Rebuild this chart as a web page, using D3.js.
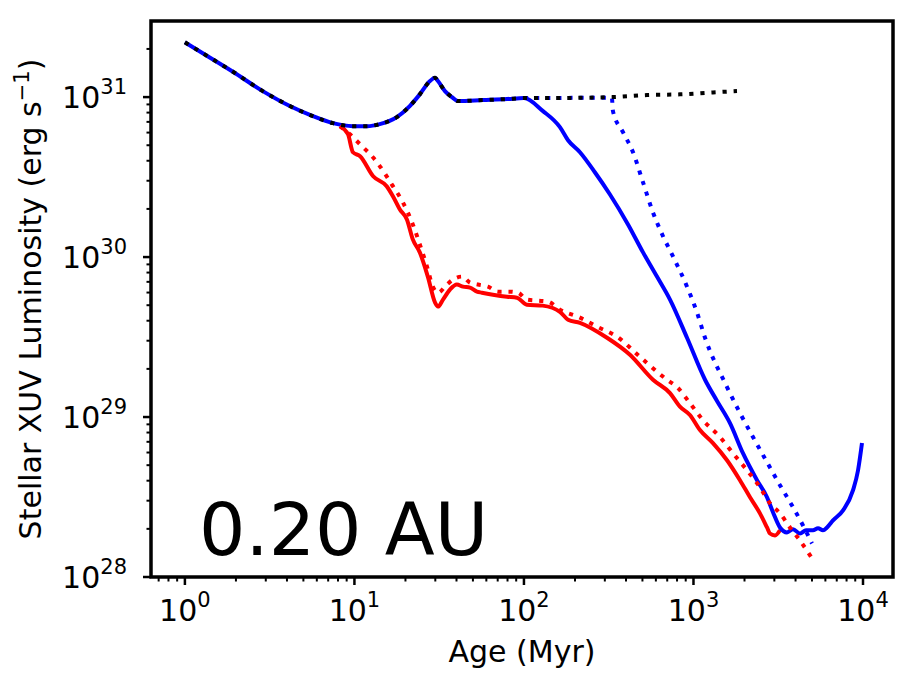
<!DOCTYPE html>
<html>
<head>
<meta charset="utf-8">
<script src="https://cdn.jsdelivr.net/npm/d3@7"></script>
<style>
  body { margin: 0; background: #fff; }
  text { font-family: "DejaVu Sans", sans-serif; fill: #000; }
</style>
</head>
<body>
<svg id="chart" width="918" height="682"></svg>
<script>
// shared track, 1 -> 100 Myr (blue solid and black dotted)
const earlyAge = [1.0, 1.34, 1.92, 2.88, 4.16, 5.69, 7.47, 9.8, 11.9, 14.1, 17.8, 21.2, 24.3, 27.9, 29.9, 31.1, 34.2, 37.6, 40.8, 57.3, 79.4, 100]
const earlyLum = [2.20e31, 1.82e31, 1.44e31, 1.09e31, 8.79e30, 7.60e30, 6.87e30, 6.58e30, 6.58e30, 6.78e30, 7.50e30, 8.79e30, 1.04e31, 1.26e31, 1.32e31, 1.26e31, 1.09e31, 1.00e31, 9.44e30, 9.58e30, 9.72e30, 9.86e30]

// black dotted after 100 Myr
const refAge = [142, 214, 335, 532, 832, 1303, 1806]
const refLum = [9.86e30, 9.9e30, 1.0e31, 1.03e31, 1.04e31, 1.07e31, 1.09e31]

// blue solid after 100 Myr
const blueAge = [129, 163, 182, 214, 262, 321, 411, 504, 609, 727, 916, 1170, 1377, 1642, 1958, 2370, 2715, 2945, 3238, 3562, 3864, 4250, 4613, 5070, 5430, 5807, 6135, 6655, 7625, 8735, 9350, 9865]
const blueLum = [8.20e30, 6.49e30, 5.37e30, 4.52e30, 3.39e30, 2.47e30, 1.60e30, 1.07e30, 7.55e29, 5.42e29, 3.13e29, 1.71e29, 1.26e29, 9.16e28, 5.94e28, 4.03e28, 3.15e28, 2.54e28, 2.04e28, 1.90e28, 1.99e28, 1.87e28, 1.96e28, 1.96e28, 2.02e28, 1.96e28, 2.04e28, 2.26e28, 2.61e28, 3.49e28, 4.65e28, 6.88e28]

// blue dotted
const blueFitAge = [100, 142, 214, 330, 335, 384, 440, 504, 577, 661, 757, 916, 1050, 1170, 1577, 1880, 2244, 2715, 3238, 3864, 4426, 5000]
const blueFitLum = [9.86e30, 9.86e30, 9.9e30, 9.9e30, 8.17e30, 6.03e30, 4.52e30, 2.93e30, 1.90e30, 1.35e30, 1.01e30, 6.53e29, 4.49e29, 3.13e29, 1.54e29, 1.06e29, 7.50e28, 5.22e28, 3.75e28, 2.73e28, 2.10e28, 1.62e28]

// red solid
const redAge = [8.21, 9.16, 9.8, 10.8, 12.9, 15.5, 16.9, 18.5, 20.4, 22.1, 24.3, 27.1, 29.9, 31.1, 33.3, 36.6, 40.2, 43.7, 48.0, 52.8, 56.5, 65.6, 79.4, 90.9, 104, 129, 163, 182, 214, 309, 422, 577, 727, 832, 953, 1092, 1303, 1577, 1880, 2155, 2467, 2715, 2825, 3027, 3238]
const redLum = [6.58e30, 5.86e30, 4.52e30, 4.27e30, 3.20e30, 2.77e30, 2.39e30, 1.99e30, 1.72e30, 1.29e30, 1.07e30, 7.55e29, 5.19e29, 4.90e29, 5.42e29, 6.26e29, 6.73e29, 6.53e29, 6.44e29, 6.08e29, 5.99e29, 5.82e29, 5.65e29, 5.57e29, 5.04e29, 4.97e29, 4.55e29, 4.06e29, 3.88e29, 3.13e29, 2.45e29, 1.71e29, 1.41e29, 1.16e29, 1.03e29, 8.29e28, 6.87e28, 5.37e28, 4.03e28, 3.15e28, 2.50e28, 2.04e28, 1.87e28, 1.82e28, 1.96e28]

// red dotted
const redFitAge = [8.21, 9.41, 10.5, 13.6, 16.6, 19.3, 22.1, 24.3, 26.8, 29.0, 31.1, 35.1, 38.1, 43.1, 48.0, 53.5, 61.3, 70.3, 80.5, 92.2, 104, 121, 139, 163, 214, 270, 354, 483, 698, 800, 953, 1137, 1432, 1710, 2070, 2467, 2825, 3238, 3707, 4250, 5000]
const redFitLum = [6.58e30, 5.86e30, 5.22e30, 3.91e30, 2.85e30, 2.20e30, 1.60e30, 1.20e30, 8.71e29, 6.53e29, 5.99e29, 6.73e29, 7.23e29, 7.55e29, 6.92e29, 6.73e29, 6.53e29, 6.08e29, 6.08e29, 5.99e29, 5.42e29, 5.34e29, 5.26e29, 4.69e29, 4.18e29, 3.67e29, 3.18e29, 2.38e29, 1.71e29, 1.54e29, 1.22e29, 9.57e28, 7.50e28, 5.94e28, 4.65e28, 3.64e28, 2.89e28, 2.50e28, 2.04e28, 1.69e28, 1.31e28]

const xTicks = [1, 10, 100, 1000, 10000]
const yTicks = [1e28, 1e29, 1e30, 1e31]
const panelLabel = '0.20 AU'

const mLeft = 151, mRight = 893, mTop = 21, mBottom = 577

var svg = d3.select('#chart')

var x = d3.scaleLog().domain([0.631, 15030]).range([mLeft, mRight])
var y = d3.scaleLog().domain([1e28, 2.99e31]).range([mBottom, mTop])

const zip = (a, b) => a.map((d, i) => [d, b[i]])

var line = d3.line()
  .curve(d3.curveMonotoneX)
  .x(d => x(d[0]))
  .y(d => y(d[1]))

var series = [
  { pts: zip(redAge, redLum), color: 'red', dash: null },
  { pts: zip(earlyAge.concat(blueAge), earlyLum.concat(blueLum)), color: 'blue', dash: null },
  { pts: zip(redFitAge, redFitLum), color: 'red', dash: '4.2,6.9' },
  { pts: zip(blueFitAge, blueFitLum), color: 'blue', dash: '4.2,6.9' },
  { pts: zip(earlyAge.concat(refAge), earlyLum.concat(refLum)), color: 'black', dash: '4.2,6.9' }
]

svg.append('defs').append('clipPath').attr('id', 'clip')
  .append('rect')
  .attr('x', mLeft).attr('y', mTop)
  .attr('width', mRight - mLeft).attr('height', mBottom - mTop)

svg.append('g')
  .attr('clip-path', 'url(#clip)')
  .selectAll('path')
  .data(series).enter().append('path')
  .attr('d', d => line(d.pts))
  .attr('fill', 'none')
  .attr('stroke', d => d.color)
  .attr('stroke-width', 4)
  .attr('stroke-linejoin', 'round')
  .attr('stroke-dasharray', d => d.dash)

// minor ticks
var xMinor = []
for (let e = -1; e <= 4; e++) {
  for (let m = 2; m <= 9; m++) {
    let v = m * Math.pow(10, e)
    if (v > 0.631 && v < 15030) xMinor.push(v)
  }
}
var yMinor = []
for (let e = 28; e <= 31; e++) {
  for (let m = 2; m <= 9; m++) {
    let v = m * Math.pow(10, e)
    if (v < 2.99e31) yMinor.push(v)
  }
}

var axes = svg.append('g')

axes.selectAll('.xminor')
  .data(xMinor).enter().append('line')
  .attr('x1', d => x(d)).attr('x2', d => x(d))
  .attr('y1', mBottom).attr('y2', mBottom + 4.5)
  .attr('stroke', '#000').attr('stroke-width', 2)

axes.selectAll('.yminor')
  .data(yMinor).enter().append('line')
  .attr('y1', d => y(d)).attr('y2', d => y(d))
  .attr('x1', mLeft).attr('x2', mLeft - 4.5)
  .attr('stroke', '#000').attr('stroke-width', 2)

axes.selectAll('.xmajor')
  .data(xTicks).enter().append('line')
  .attr('x1', d => x(d)).attr('x2', d => x(d))
  .attr('y1', mBottom).attr('y2', mBottom + 8)
  .attr('stroke', '#000').attr('stroke-width', 2.5)

axes.selectAll('.ymajor')
  .data(yTicks).enter().append('line')
  .attr('y1', d => y(d)).attr('y2', d => y(d))
  .attr('x1', mLeft).attr('x2', mLeft - 8)
  .attr('stroke', '#000').attr('stroke-width', 2.5)

// tick labels as 10^n
var xl = axes.selectAll('.xlab')
  .data(xTicks).enter().append('text')
  .attr('x', d => x(d))
  .attr('y', 621)
  .attr('text-anchor', 'middle')
  .style('font-size', '30px')
xl.append('tspan').text('10')
xl.append('tspan').attr('dy', -14).style('font-size', '21px')
  .text(d => Math.round(Math.log10(d)))

var yl = axes.selectAll('.ylab')
  .data(yTicks).enter().append('text')
  .attr('x', 127)
  .attr('y', d => y(d) + 11)
  .attr('text-anchor', 'end')
  .style('font-size', '30px')
yl.append('tspan').text('10')
yl.append('tspan').attr('dy', -14).style('font-size', '21px')
  .text(d => Math.round(Math.log10(d)))

// frame
svg.append('rect')
  .attr('x', mLeft).attr('y', mTop)
  .attr('width', mRight - mLeft).attr('height', mBottom - mTop)
  .attr('fill', 'none')
  .attr('stroke', '#000')
  .attr('stroke-width', 3.5)

svg.append('text')
  .attr('x', (mLeft + mRight) / 2)
  .attr('y', 662)
  .attr('text-anchor', 'middle')
  .style('font-size', '30px')
  .text('Age (Myr)')

var yt = svg.append('text')
  .attr('transform', `translate(41,${(mTop + mBottom) / 2}) rotate(-90)`)
  .attr('text-anchor', 'middle')
  .style('font-size', '30px')
yt.append('tspan').text('Stellar XUV Luminosity (erg s')
yt.append('tspan').attr('dy', -12).style('font-size', '21px').text('\u22121')
yt.append('tspan').attr('dy', 12).text(')')

svg.append('text')
  .attr('x', 199)
  .attr('y', 555)
  .style('font-size', '73px')
  .text(panelLabel)
</script>
</body>
</html>
